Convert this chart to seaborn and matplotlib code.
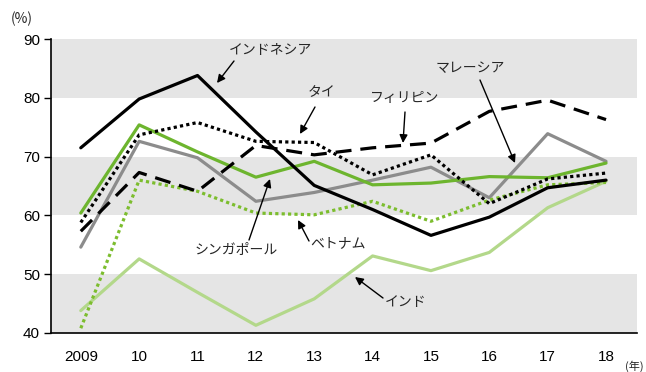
import matplotlib
matplotlib.use("Agg")
import matplotlib.pyplot as plt
import seaborn as sns
import pandas as pd

years = [2009, 2010, 2011, 2012, 2013, 2014, 2015, 2016, 2017, 2018]
year_labels = ["2009", "10", "11", "12", "13", "14", "15", "16", "17", "18"]

indonesia = [71.5, 79.8, 83.8, 74.2, 65.1, 61.0, 56.6, 59.7, 64.7, 66.0]
thailand = [58.8, 73.7, 75.8, 72.6, 72.4, 66.9, 70.3, 62.0, 66.2, 67.2]
philippines = [57.3, 67.3, 64.1, 71.9, 70.3, 71.5, 72.3, 77.7, 79.6, 76.3]
malaysia = [54.6, 72.6, 69.8, 62.4, 63.9, 66.0, 68.2, 63.0, 73.9, 69.2]
singapore = [60.4, 75.4, 70.8, 66.5, 69.2, 65.2, 65.5, 66.6, 66.4, 68.9]
vietnam = [40.8, 66.0, 64.1, 60.4, 60.1, 62.4, 59.0, 62.6, 65.2, 65.6]
india = [43.8, 52.6, 46.9, 41.3, 45.8, 53.1, 50.6, 53.7, 61.3, 65.8]

sns.set_theme(style="white")
plt.rcParams["font.family"] = ["Liberation Sans", "Noto Sans CJK JP", "DejaVu Sans"]
JP = ["Noto Sans CJK JP", "DejaVu Sans"]

fig = plt.figure(figsize=(6.46, 3.72), dpi=100)
ax = fig.add_axes([0.079, 0.105, 0.907, 0.79])

# horizontal shading bands
for lo, hi in [(40, 50), (60, 70), (80, 90)]:
    ax.axhspan(lo, hi, color="#e5e5e5", lw=0, zorder=0)

lw = 2.3
series = [
    (india, "#b3d88a", "-"),
    (malaysia, "#8c8c8c", "-"),
    (singapore, "#6db52e", "-"),
    (vietnam, "#7cbd2e", (0, (1, 1))),
    (philippines, "black", (0, (5, 2.8))),
    (thailand, "black", (0, (1, 1))),
    (indonesia, "black", "-"),
]
for vals, color, ls in series:
    df = pd.DataFrame({"year": years, "value": vals})
    sns.lineplot(data=df, x="year", y="value", ax=ax, color=color,
                 linestyle=ls, linewidth=lw, zorder=3)

ax.set_xlim(2008.49, 2018.53)
ax.set_ylim(40, 90)
ax.set_xticks(years)
ax.set_xticklabels(year_labels)
ax.set_yticks([40, 50, 60, 70, 80, 90])
ax.set_xlabel("")
ax.set_ylabel("")
for s in ["top", "right"]:
    ax.spines[s].set_visible(False)
for s in ["left", "bottom"]:
    ax.spines[s].set_color("black")
    ax.spines[s].set_linewidth(1.2)
ax.tick_params(axis="y", which="both", left=True, length=5, width=1.0,
               color="black", labelsize=11, pad=3)
ax.tick_params(axis="x", bottom=False, labelsize=11, pad=6)
for t in ax.get_xticklabels() + ax.get_yticklabels():
    t.set_color("black")

fig.text(22 / 646, 1 - 19 / 372, "(%)", fontsize=10, family=JP,
         ha="center", va="center")
fig.text(634 / 646, 1 - 366 / 372, "(年)", fontsize=8, family=JP,
         ha="center", va="center")


def px(x, y):
    return (x / 646, 1 - y / 372)


labels = [
    ("インドネシア", (270, 50), (234, 61), (217, 83)),
    ("タイ", (322, 92), (315, 107), (300, 134)),
    ("フィリピン", (405, 98), (405, 112), (403, 143)),
    ("マレーシア", (470, 68), (480, 80), (515, 163)),
    ("シンガポール", (236, 250), (249, 240), (270, 179)),
    ("ベトナム", (338, 243), (309, 241), (298, 220)),
    ("インド", (406, 302), (383, 298), (355, 277)),
]
for text, tpos, start, end in labels:
    fig.text(*px(*tpos), text, fontsize=10, family=JP, ha="center",
             va="center", zorder=6)
    ax.annotate("", xy=px(*end), xycoords="figure fraction",
                xytext=px(*start), textcoords="figure fraction",
                arrowprops=dict(arrowstyle="-|>", color="black", lw=1.0,
                                mutation_scale=12, shrinkA=0, shrinkB=0),
                zorder=6)

fig.savefig("out.png", dpi=100)
